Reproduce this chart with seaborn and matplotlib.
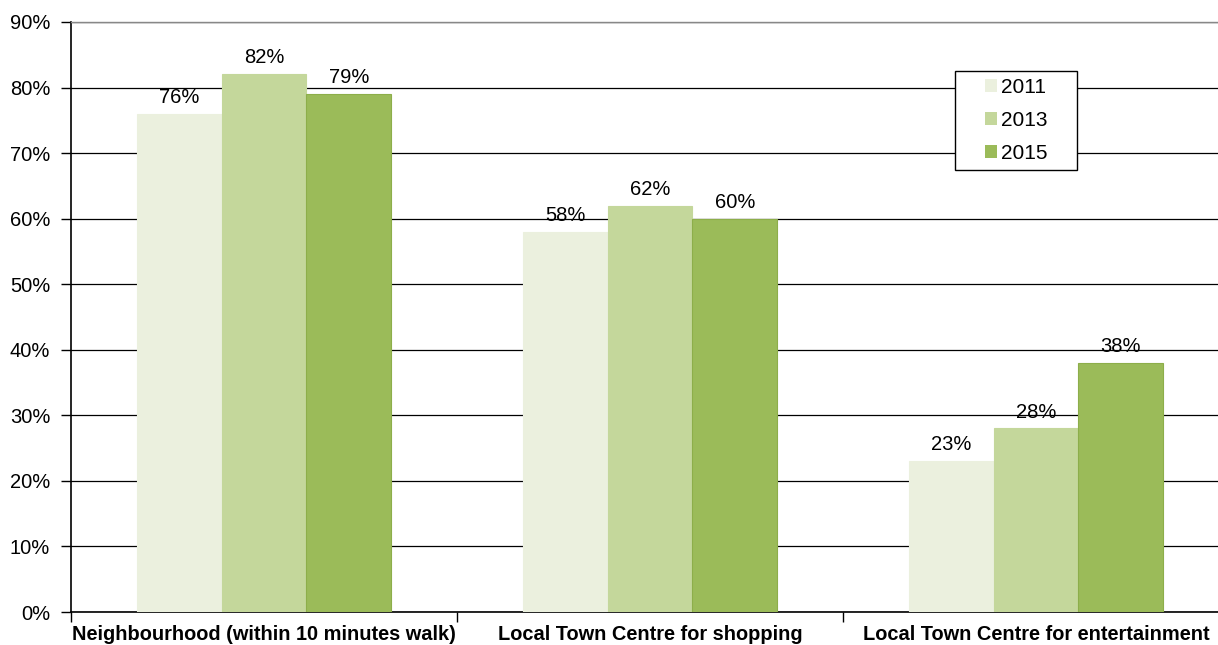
import matplotlib
matplotlib.use("Agg")
import matplotlib.pyplot as plt
import seaborn as sns
import pandas as pd
from matplotlib.ticker import FuncFormatter, MultipleLocator
from matplotlib.patches import Rectangle, Patch

categories = ["Neighbourhood (within 10 minutes walk)",
              "Local Town Centre for shopping",
              "Local Town Centre for entertainment"]
years = ["2011", "2013", "2015"]
values_2011 = [76, 58, 23]
values_2013 = [82, 62, 28]
values_2015 = [79, 60, 38]
colors = ["#EBF0DE", "#C4D79B", "#9BBB59"]

rows = []
for yr, vals in zip(years, [values_2011, values_2013, values_2015]):
    for c, v in zip(categories, vals):
        rows.append({"category": c, "year": yr, "value": v})
df = pd.DataFrame(rows)

sns.set_style("white")
plt.rcParams["font.family"] = ["Liberation Sans", "DejaVu Sans"]
plt.rcParams["text.color"] = "black"
plt.rcParams["xtick.color"] = "black"
plt.rcParams["ytick.color"] = "black"

fig = plt.figure(figsize=(12.18, 6.45), dpi=100)
ax = fig.add_axes([71/1218, 1-612/645, 1158/1218, 590/645])

sns.barplot(data=df, x="category", y="value", hue="year", order=categories,
            hue_order=years, palette=colors, width=0.66, ax=ax,
            saturation=1, errorbar=None, zorder=3, legend=False)

for cont, ec in zip(ax.containers, ["#EBF0DE", "#C4D79B", "#8DAE4A"]):
    for p in cont.patches:
        p.set_edgecolor(ec)
        p.set_linewidth(0.8)
    ax.bar_label(cont, labels=[f"{int(round(v))}%" for v in cont.datavalues],
                 padding=5, fontsize=14.5, color="black", zorder=4)

ax.set_ylim(0, 90)
ax.set_xlim(-0.5, 2.5)
ax.yaxis.set_major_locator(MultipleLocator(10))
ax.yaxis.set_major_formatter(FuncFormatter(lambda v, p: f"{int(v)}%"))
ax.grid(axis="y", color="black", linewidth=0.9, zorder=0)
ax.set_axisbelow(True)

ax.set_xticks([0, 1, 2])
ax.set_xticklabels(categories, fontsize=14.4, fontweight="bold", color="black")
ax.set_xticks([-0.5, 0.5, 1.5, 2.5], minor=True)
ax.tick_params(axis="x", which="major", length=0, pad=9)
ax.tick_params(axis="x", which="minor", length=7, width=1, color="black", direction="out", bottom=True)
ax.tick_params(axis="y", length=7, width=1, color="black", direction="out", left=True, labelsize=14.5, pad=8, labelcolor="black")
ax.set_xlabel("")
ax.set_ylabel("")

for s in ["left", "bottom"]:
    ax.spines[s].set_color("black")
    ax.spines[s].set_linewidth(1.2)
ax.spines["right"].set_visible(False)
ax.spines["top"].set_color("#888888")
ax.spines["top"].set_linewidth(1)

# legend box
bx0 = (955 - 71) / 1158
bx1 = (1077 - 71) / 1158
by0 = (612 - 170) / 590
by1 = (612 - 71) / 590
ax.add_patch(Rectangle((bx0, by0), bx1 - bx0, by1 - by0, transform=ax.transAxes,
                       facecolor="white", edgecolor="black", linewidth=1, zorder=5))
handles = [Patch(facecolor=c, edgecolor="none") for c in colors]
leg = ax.legend(handles, years, loc="center",
                bbox_to_anchor=((bx0 + bx1) / 2, (by0 + by1) / 2),
                frameon=False, fontsize=15, handlelength=0.6, handleheight=0.6,
                handletextpad=0.15, labelspacing=0.68, borderpad=0, borderaxespad=0)
leg.set_zorder(6)
for t in leg.get_texts():
    t.set_color("black")

fig.savefig("out.png", dpi=100)
